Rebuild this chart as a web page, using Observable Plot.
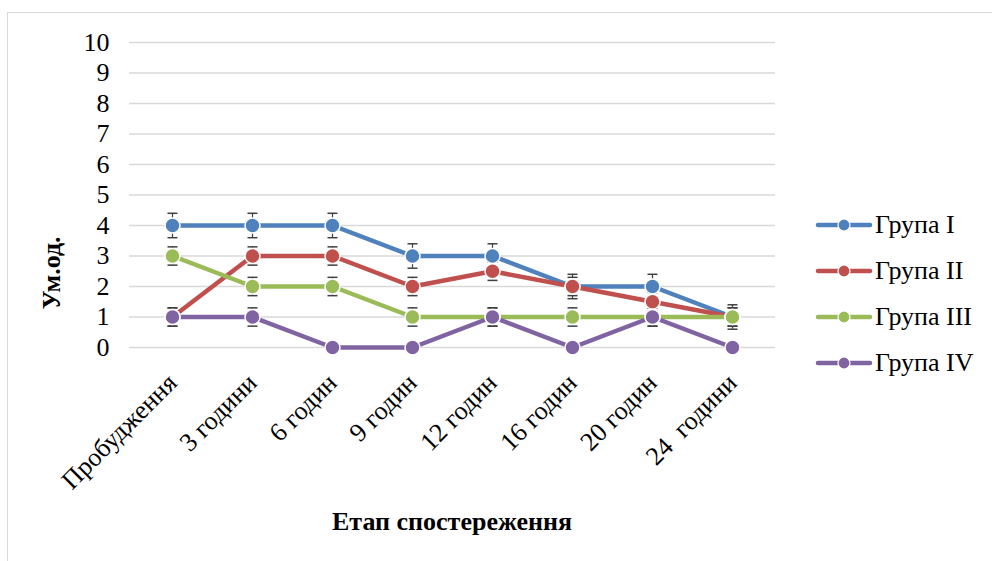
<!DOCTYPE html>
<html>
<head>
<meta charset="utf-8">
<script src="https://cdn.jsdelivr.net/npm/d3@7"></script>
<script src="https://cdn.jsdelivr.net/npm/@observablehq/plot@0.6"></script>
<style>
  html, body { margin: 0; padding: 0; background: #fff; }
  #wrap { position: relative; width: 992px; height: 561px; overflow: hidden; font-family: "Liberation Serif", "Times New Roman", serif; }
  #frame { position: absolute; left: 7px; top: 12px; width: 1000px; height: 600px; border: 1.5px solid #D9D9D9; box-sizing: border-box; }
  #chart { position: absolute; left: 0; top: 0; }
  .ylab { position: absolute; left: 52px; top: 273px; transform: translate(-50%, -50%) rotate(-90deg); font-weight: bold; font-size: 26px; white-space: nowrap; }
  .xlab { position: absolute; left: 452px; top: 522px; transform: translate(-50%, -50%); font-weight: bold; font-size: 26px; white-space: nowrap; }
  #legend { position: absolute; left: 815px; top: 202px; }
  .item { display: flex; align-items: center; height: 46px; font-size: 26px; }
  .item svg { margin-right: 2px; }
</style>
</head>
<body>
<div id="wrap">
  <div id="frame"></div>
  <div id="chart"></div>
  <div class="ylab">Ум.од.</div>
  <div class="xlab">Етап спостереження</div>
  <div id="legend"></div>
</div>
<script>
const categories = ["Пробудження", "3 години", "6 годин", "9 годин", "12 годин", "16 годин", "20 годин", "24  години"];
const seriesNames = ["Група I", "Група II", "Група III", "Група IV"];
const colors = ["#4F81BD", "#C0504D", "#9BBB59", "#8064A2"];
const group1 = [4, 4, 4, 3, 3, 2, 2, 1];
const group2 = [1, 3, 3, 2, 2.5, 2, 1.5, 1];
const group3 = [3, 2, 2, 1, 1, 1, 1, 1];
const group4 = [1, 1, 0, 0, 1, 0, 1, 0];
const errors = [0.4, 0.3, 0.3, 0.3];
const yTicks = [0, 1, 2, 3, 4, 5, 6, 7, 8, 9, 10];

const allSeries = [group1, group2, group3, group4];
const data = [];
allSeries.forEach((vals, s) => {
  vals.forEach((v, i) => {
    data.push({cat: categories[i], value: v, group: seriesNames[s], err: errors[s]});
  });
});
const errData = data.filter(d => d.value > 0);

const capSymbol = {
  draw(ctx) { ctx.moveTo(-5, 0); ctx.lineTo(5, 0); }
};

const chart = Plot.plot({
  width: 992,
  height: 561,
  marginLeft: 129,
  marginRight: 217,
  marginTop: 42,
  marginBottom: 214,
  style: { fontFamily: "'Liberation Serif', 'Times New Roman', serif", fontSize: "26px", background: "transparent", overflow: "visible" },
  x: { type: "point", domain: categories, padding: 0.5, label: null },
  y: { domain: [0, 10], label: null },
  color: { domain: seriesNames, range: colors },
  marks: [
    Plot.gridY(yTicks, { stroke: "#D9D9D9", strokeOpacity: 1, strokeWidth: 1.3 }),
    Plot.axisY(yTicks, { tickSize: 0, tickPadding: 20, fontSize: 26, fill: "#000", tickFormat: d => String(d), label: null }),
    Plot.axisX(categories, { tickSize: 0, tickRotate: -45, tickPadding: 10, fontSize: 26, fill: "#000", label: null, textAnchor: "end", dx: 0, dy: 21 }),
    Plot.line(data, { x: "cat", y: "value", z: "group", stroke: "group", strokeWidth: 4.5, strokeLinejoin: "round" }),
    Plot.ruleX(errData, { x: "cat", y1: d => d.value - d.err, y2: d => d.value + d.err, stroke: "#404040", strokeWidth: 1.2 }),
    Plot.dot(errData, { x: "cat", y: d => d.value + d.err, symbol: capSymbol, fill: "none", stroke: "#404040", strokeWidth: 1.5 }),
    Plot.dot(errData, { x: "cat", y: d => d.value - d.err, symbol: capSymbol, fill: "none", stroke: "#404040", strokeWidth: 1.5 }),
    Plot.dot(data, { x: "cat", y: "value", fill: "group", stroke: "#fff", strokeWidth: 1.5, r: 7.5 })
  ]
});
document.getElementById("chart").appendChild(chart);

const legend = document.getElementById("legend");
seriesNames.forEach((name, i) => {
  const item = document.createElement("div");
  item.className = "item";
  item.innerHTML = `<svg width="58" height="16"><line x1="3" y1="8" x2="55" y2="8" stroke="${colors[i]}" stroke-width="4.5" stroke-linecap="round"/><circle cx="29" cy="8" r="6" fill="${colors[i]}" stroke="#fff" stroke-width="1.2"/></svg><span>${name}</span>`;
  legend.appendChild(item);
});
</script>
</body>
</html>
